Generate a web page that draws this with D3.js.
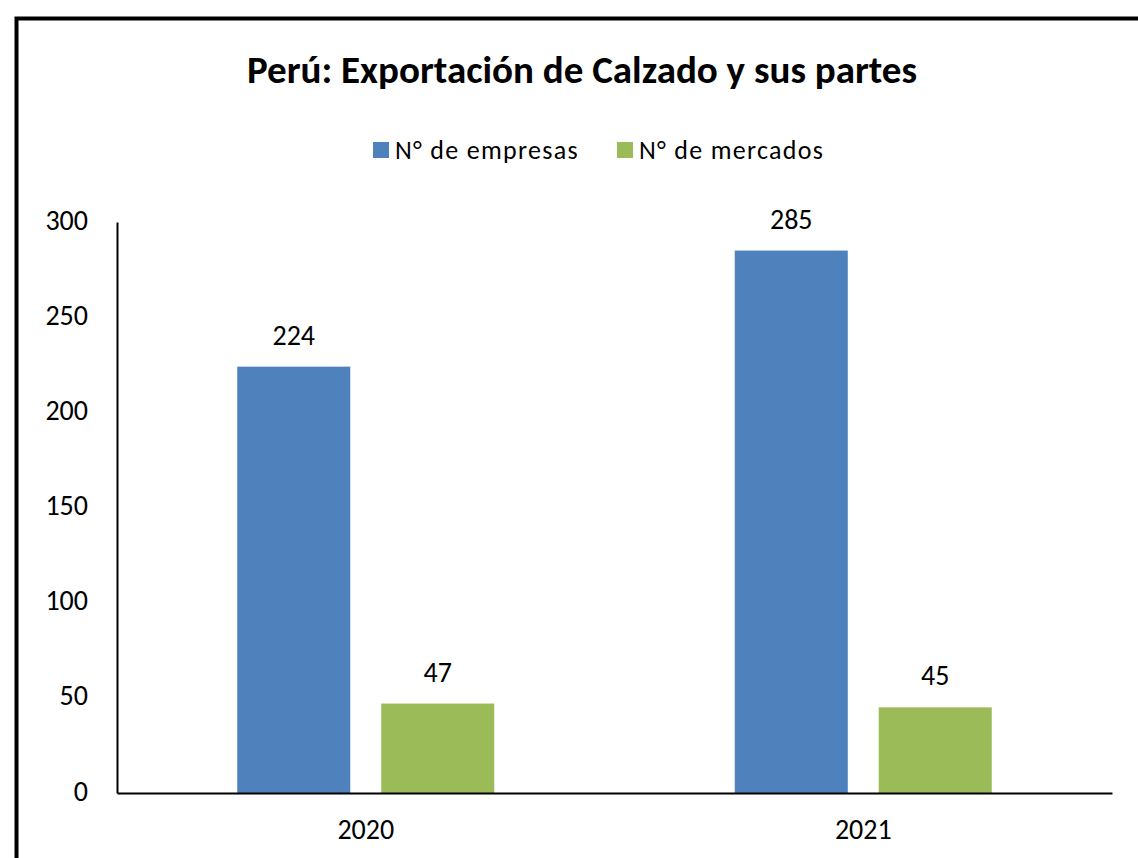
<!DOCTYPE html>
<html>
<head>
<meta charset="utf-8">
<script src="https://cdn.jsdelivr.net/npm/d3@7"></script>
<style>
  body { margin: 0; background: #fff; }
  text { font-family: Carlito, Lato, "Noto Sans", sans-serif; fill: #000; }
</style>
</head>
<body>
<svg id="chart" width="1138" height="858"></svg>
<script>
// chart data
const years = ['2020', '2021']
const seriesNames = ['N° de empresas', 'N° de mercados']
const empresas = [224, 285]
const mercados = [47, 45]
const seriesColors = ['#4f81bd', '#9bbb59']
const yTicks = [0, 50, 100, 150, 200, 250, 300]

const svg = d3.select('#chart')

const plotLeft = 117, plotRight = 1112, plotTop = 222, plotBottom = 793
const fs = 28

// outer frame, runs off the right and bottom edge like in the source image
svg.append('path')
  .attr('d', 'M16.5,1000 L16.5,18.5 L1200,18.5')
  .attr('fill', 'none')
  .attr('stroke', '#000')
  .attr('stroke-width', 4)

svg.append('text')
  .attr('x', 582).attr('y', 83)
  .attr('text-anchor', 'middle')
  .attr('font-size', 39).attr('font-weight', 'bold')
  .text('Perú: Exportación de Calzado y sus partes')

const x0 = d3.scaleBand().domain(years).range([plotLeft, plotRight])
const x1 = d3.scaleBand().domain(seriesNames)
  .range([-128.5, 128.5]).paddingInner(0.215)
const y = d3.scaleLinear().domain([0, 300]).range([plotBottom, plotTop])

const rows = years.map((yr, i) => ({ year: yr, vals: [empresas[i], mercados[i]] }))

// legend
const legendX = [373, 617]
const legend = svg.append('g')
seriesNames.forEach((name, i) => {
  legend.append('rect')
    .attr('x', legendX[i]).attr('y', 142)
    .attr('width', 16).attr('height', 16)
    .attr('fill', seriesColors[i])
  legend.append('text')
    .attr('x', legendX[i] + 22).attr('y', 159)
    .attr('font-size', 26).attr('letter-spacing', 1.3)
    .text(name)
})

// bars
const groups = svg.selectAll('g.grp')
  .data(rows)
  .enter().append('g')
  .attr('class', 'grp')
  .attr('transform', d => 'translate(' + (x0(d.year) + x0.bandwidth() / 2) + ',0)')

groups.selectAll('rect')
  .data(d => d.vals.map((v, i) => ({ name: seriesNames[i], v: v, c: seriesColors[i] })))
  .enter().append('rect')
  .attr('x', d => x1(d.name))
  .attr('width', x1.bandwidth())
  .attr('y', d => y(d.v))
  .attr('height', d => y(0) - y(d.v))
  .attr('fill', d => d.c)

groups.selectAll('text.val')
  .data(d => d.vals.map((v, i) => ({ name: seriesNames[i], v: v })))
  .enter().append('text')
  .attr('class', 'val')
  .attr('x', d => x1(d.name) + x1.bandwidth() / 2)
  .attr('y', d => y(d.v) - 22)
  .attr('text-anchor', 'middle')
  .attr('font-size', fs)
  .text(d => d.v)

// y axis
const yAxis = svg.append('g')
  .attr('transform', 'translate(' + plotLeft + ',0)')
  .call(d3.axisLeft(y).tickValues(yTicks).tickSize(0).tickPadding(29))
yAxis.select('.domain').attr('stroke', '#000').attr('stroke-width', 2)
yAxis.selectAll('text').attr('font-size', fs).attr('font-family', null).attr('dy', '0.25em')

// x axis
const xAxis = svg.append('g')
  .attr('transform', 'translate(0,' + plotBottom + ')')
  .call(d3.axisBottom(x0).tickSize(0).tickPadding(26))
xAxis.select('.domain').attr('stroke', '#000').attr('stroke-width', 2)
xAxis.selectAll('text').attr('font-size', fs).attr('font-family', null)
</script>
</body>
</html>
